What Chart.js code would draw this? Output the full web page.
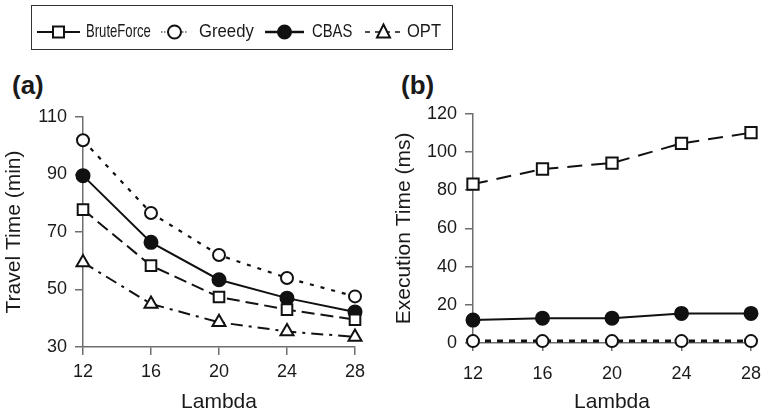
<!DOCTYPE html>
<html>
<head>
<meta charset="utf-8">
<script src="https://cdn.jsdelivr.net/npm/chart.js@4.4.0/dist/chart.umd.min.js"></script>
<style>
body { margin: 0; width: 761px; height: 415px; background: #fff; position: relative; overflow: hidden;
       font-family: "Liberation Sans", Arial, sans-serif; color: #1a1a1a; }
#legend { position: absolute; left: 31px; top: 5px; width: 422px; height: 45px; border: 1px solid #333; box-sizing: border-box; }
#legendIcons { position: absolute; left: 0; top: 0; }
.lg { position: absolute; top: 14px; font-size: 19px; line-height: 22px; white-space: nowrap; transform-origin: 0 50%; }
.panel { position: absolute; top: 70px; font-weight: bold; font-size: 26px; line-height: 30px; }
#chartA { position: absolute; left: 0; top: 95px; }
#chartB { position: absolute; left: 380px; top: 95px; }
</style>
</head>
<body>
<div id="legend">
  <canvas id="legendIcons" width="420" height="43"></canvas>
  <span class="lg" style="left:54px;transform:scaleX(0.69)">BruteForce</span>
  <span class="lg" style="left:167px;transform:scaleX(0.88)">Greedy</span>
  <span class="lg" style="left:280px;transform:scaleX(0.78)">CBAS</span>
  <span class="lg" style="left:375px;transform:scaleX(0.87)">OPT</span>
</div>
<div class="panel" style="left:12px">(a)</div>
<div class="panel" style="left:401px">(b)</div>
<canvas id="chartA" width="380" height="320"></canvas>
<canvas id="chartB" width="381" height="320"></canvas>
<script>
// Lambda values on the x axis
var lambda = [12, 16, 20, 24, 28];
var lambdaTicks = [12, 16, 20, 24, 28];

// (a) travel time in minutes
var travelBrute = [77.8, 58.3, 47.4, 43.0, 39.5];
var travelGreedy = [101.9, 76.6, 62.0, 54.0, 47.6];
var travelCbas = [89.6, 66.4, 53.4, 47.0, 42.2];
var travelOpt = [59.4, 45.0, 38.6, 35.4, 33.5];
var travelTicks = [30, 50, 70, 90, 110];

// (b) execution time in ms
var execBrute = [83.2, 91.1, 94.2, 104.5, 110.1];
var execGreedy = [1, 1, 1, 1, 1];
var execCbas = [12, 13, 13, 15.5, 15.5];
var execTicks = [0, 20, 40, 60, 80, 100, 120];

var axisColor = '#6e6e6e';
var textColor = '#1a1a1a';

function pts(ys) {
    return lambda.map(function (x, i) { return { x: x, y: ys[i] }; });
}

function series(label, ys, style, dash, width, radius, filled) {
    return {
        label: label,
        data: pts(ys),
        borderColor: '#111',
        borderWidth: width,
        borderDash: dash,
        pointStyle: style,
        pointRadius: radius,
        pointBorderWidth: 2,
        pointBorderColor: '#111',
        pointBackgroundColor: filled ? '#111' : '#fff',
        tension: 0,
        fill: false,
        clip: false
    };
}

function makeChart(id, datasets, yTicks, yTitle, padding, xTickPad, xHeight) {
    return new Chart(document.getElementById(id), {
        type: 'line',
        data: { datasets: datasets },
        options: {
            responsive: false,
            animation: false,
            devicePixelRatio: 1,
            layout: { padding: padding },
            plugins: { legend: { display: false }, tooltip: { enabled: false } },
            scales: {
                x: {
                    type: 'linear',
                    min: lambdaTicks[0],
                    max: lambdaTicks[lambdaTicks.length - 1],
                    afterBuildTicks: function (s) { s.ticks = lambdaTicks.map(function (v) { return { value: v }; }); },
                    afterFit: function (s) { s.height = xHeight; s.paddingLeft = 0; s.paddingRight = 0; },
                    grid: { drawOnChartArea: false, color: axisColor, tickLength: 8, lineWidth: 1.5 },
                    border: { color: axisColor, width: 1.5 },
                    ticks: { color: textColor, font: { family: 'Liberation Sans', size: 18 }, padding: xTickPad, maxRotation: 0 },
                    title: { display: true, text: 'Lambda', color: textColor, font: { family: 'Liberation Sans', size: 21 }, padding: { top: 0, bottom: 0 } }
                },
                y: {
                    min: yTicks[0],
                    max: yTicks[yTicks.length - 1],
                    afterBuildTicks: function (s) { s.ticks = yTicks.map(function (v) { return { value: v }; }); },
                    afterFit: function (s) { s.width = 83; },
                    grid: { drawOnChartArea: false, color: axisColor, tickLength: 8, lineWidth: 1.5 },
                    border: { color: axisColor, width: 1.5 },
                    ticks: { color: textColor, font: { family: 'Liberation Sans', size: 18 }, padding: 8 },
                    title: { display: true, text: yTitle, color: textColor, font: { family: 'Liberation Sans', size: 21 }, padding: { top: 2, bottom: 0 } }
                }
            }
        }
    });
}

makeChart('chartA', [
    series('BruteForce', travelBrute, 'rect', [13, 6], 2, 7.5, false),
    series('Greedy', travelGreedy, 'circle', [4, 7], 2.2, 6, false),
    series('CBAS', travelCbas, 'circle', [], 2, 6.5, true),
    series('OPT', travelOpt, 'triangle', [12, 6, 3, 6], 2, 7.5, false)
], travelTicks, 'Travel Time (min)', { top: 22, left: 0, right: 25, bottom: 0 }, 6, 68);

makeChart('chartB', [
    series('BruteForce', execBrute, 'rect', [15, 9], 2, 8, false),
    series('Greedy', execGreedy, 'circle', [6, 6], 3, 6, false),
    series('CBAS', execCbas, 'circle', [], 2, 6.5, true)
], execTicks, 'Execution Time (ms)', { top: 14, left: 10, right: 10, bottom: 0 }, 12, 72);

// legend samples: line + marker
var lc = document.getElementById('legendIcons').getContext('2d');
function sample(x0, x1, dash, width, marker) {
    var y = 26, mx = (x0 + x1) / 2;
    lc.save();
    lc.strokeStyle = '#111';
    lc.lineWidth = width;
    lc.setLineDash(dash);
    lc.beginPath(); lc.moveTo(x0, y); lc.lineTo(x1, y); lc.stroke();
    lc.setLineDash([]);
    lc.lineWidth = 2;
    lc.fillStyle = '#fff';
    lc.beginPath();
    if (marker === 'rect') {
        lc.rect(mx - 5.5, y - 5.5, 11, 11);
    } else if (marker === 'triangle') {
        lc.moveTo(mx, y - 7.5); lc.lineTo(mx + 6.5, y + 5.5); lc.lineTo(mx - 6.5, y + 5.5); lc.closePath();
    } else {
        lc.arc(mx, y, 6.5, 0, Math.PI * 2);
        if (marker === 'dot') lc.fillStyle = '#111';
    }
    lc.fill(); lc.stroke();
    lc.restore();
}
sample(5, 48, [], 2, 'rect');
sample(129, 156, [1.5, 1.5], 1.2, 'circle');
sample(233, 272, [], 2.5, 'dot');
sample(333, 370, [5, 5], 1.5, 'triangle');
</script>
</body>
</html>
